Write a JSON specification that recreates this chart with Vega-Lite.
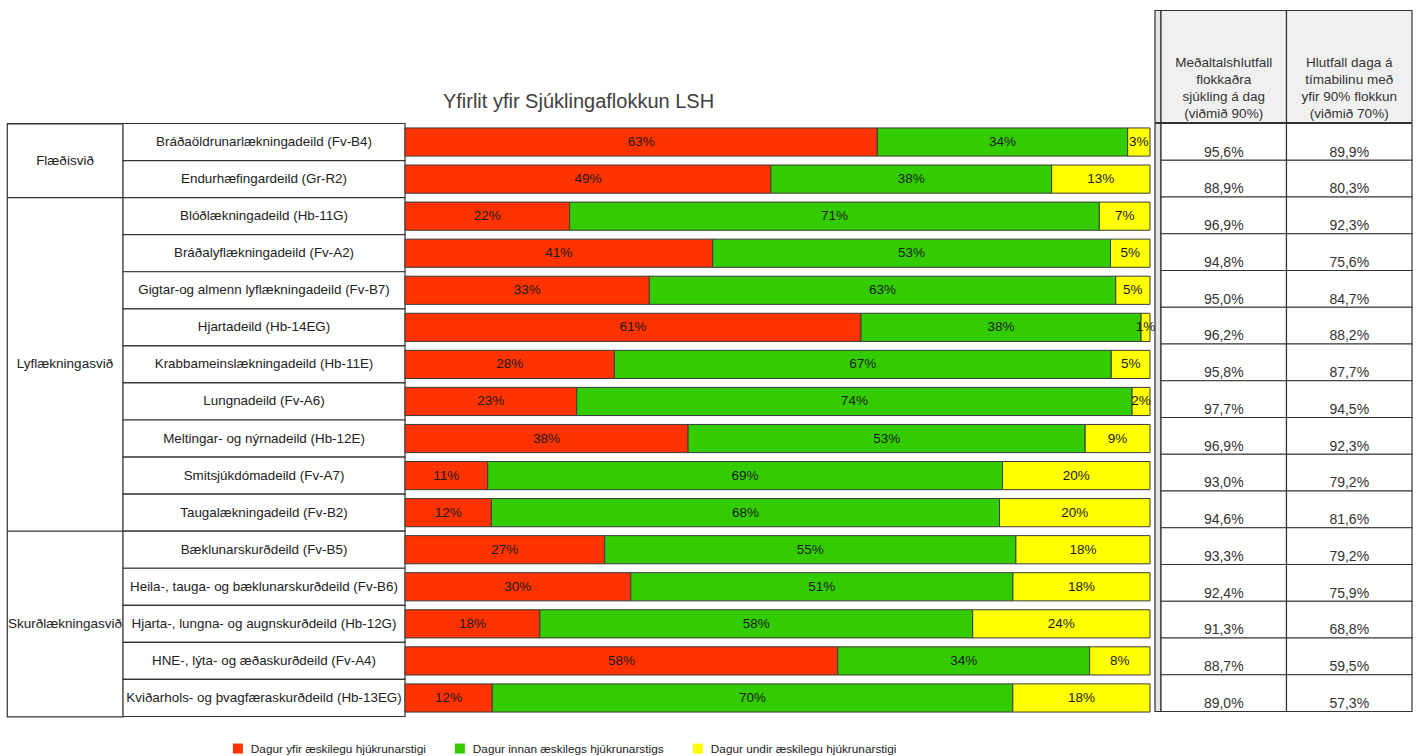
{
  "$schema": "https://vega.github.io/schema/vega-lite/v6.json",
  "padding": {"left": 5, "top": 9.5, "right": 0, "bottom": 0},
  "background": "white",
  "datasets": {
    "table": [
      {"svid": "Flæðisvið", "deild": "Bráðaöldrunarlækningadeild (Fv-B4)", "m1": "95,6%", "m2": "89,9%"},
      {"svid": "Flæðisvið", "deild": "Endurhæfingardeild (Gr-R2)", "m1": "88,9%", "m2": "80,3%"},
      {"svid": "Lyflækningasvið", "deild": "Blóðlækningadeild (Hb-11G)", "m1": "96,9%", "m2": "92,3%"},
      {"svid": "Lyflækningasvið", "deild": "Bráðalyflækningadeild (Fv-A2)", "m1": "94,8%", "m2": "75,6%"},
      {"svid": "Lyflækningasvið", "deild": "Gigtar-og almenn lyflækningadeild (Fv-B7)", "m1": "95,0%", "m2": "84,7%"},
      {"svid": "Lyflækningasvið", "deild": "Hjartadeild (Hb-14EG)", "m1": "96,2%", "m2": "88,2%"},
      {"svid": "Lyflækningasvið", "deild": "Krabbameinslækningadeild (Hb-11E)", "m1": "95,8%", "m2": "87,7%"},
      {"svid": "Lyflækningasvið", "deild": "Lungnadeild (Fv-A6)", "m1": "97,7%", "m2": "94,5%"},
      {"svid": "Lyflækningasvið", "deild": "Meltingar- og nýrnadeild (Hb-12E)", "m1": "96,9%", "m2": "92,3%"},
      {"svid": "Lyflækningasvið", "deild": "Smitsjúkdómadeild (Fv-A7)", "m1": "93,0%", "m2": "79,2%"},
      {"svid": "Lyflækningasvið", "deild": "Taugalækningadeild (Fv-B2)", "m1": "94,6%", "m2": "81,6%"},
      {"svid": "Skurðlækningasvið", "deild": "Bæklunarskurðdeild (Fv-B5)", "m1": "93,3%", "m2": "79,2%"},
      {"svid": "Skurðlækningasvið", "deild": "Heila-, tauga- og bæklunarskurðdeild (Fv-B6)", "m1": "92,4%", "m2": "75,9%"},
      {"svid": "Skurðlækningasvið", "deild": "Hjarta-, lungna- og augnskurðdeild (Hb-12G)", "m1": "91,3%", "m2": "68,8%"},
      {"svid": "Skurðlækningasvið", "deild": "HNE-, lýta- og æðaskurðdeild (Fv-A4)", "m1": "88,7%", "m2": "59,5%"},
      {"svid": "Skurðlækningasvið", "deild": "Kviðarhols- og þvagfæraskurðdeild (Hb-13EG)", "m1": "89,0%", "m2": "57,3%"}
    ],
    "svid": [
      {"svid": "Flæðisvið", "first": "Bráðaöldrunarlækningadeild (Fv-B4)", "mid": "Endurhæfingardeild (Gr-R2)"},
      {"svid": "Lyflækningasvið", "first": "Blóðlækningadeild (Hb-11G)", "mid": "Krabbameinslækningadeild (Hb-11E)"},
      {"svid": "Skurðlækningasvið", "first": "Bæklunarskurðdeild (Fv-B5)", "mid": "Hjarta-, lungna- og augnskurðdeild (Hb-12G)"}
    ],
    "heads": [
      {"col": "m1", "head": "Meðaltalshlutfall\nflokkaðra\nsjúkling á dag\n(viðmið 90%)"},
      {"col": "m2", "head": "Hlutfall daga á\ntímabilinu með\nyfir 90% flokkun\n(viðmið 70%)"}
    ],
    "titles": [
      {"t": "Yfirlit yfir Sjúklingaflokkun LSH"}
    ],
    "bars": [
      {"deild": "Bráðaöldrunarlækningadeild (Fv-B4)", "ord": 1, "stig": "Dagur yfir æskilegu hjúkrunarstigi", "share": 0.634},
      {"deild": "Bráðaöldrunarlækningadeild (Fv-B4)", "ord": 2, "stig": "Dagur innan æskilegs hjúkrunarstigs", "share": 0.336},
      {"deild": "Bráðaöldrunarlækningadeild (Fv-B4)", "ord": 3, "stig": "Dagur undir æskilegu hjúkrunarstigi", "share": 0.030},
      {"deild": "Endurhæfingardeild (Gr-R2)", "ord": 1, "stig": "Dagur yfir æskilegu hjúkrunarstigi", "share": 0.491},
      {"deild": "Endurhæfingardeild (Gr-R2)", "ord": 2, "stig": "Dagur innan æskilegs hjúkrunarstigs", "share": 0.377},
      {"deild": "Endurhæfingardeild (Gr-R2)", "ord": 3, "stig": "Dagur undir æskilegu hjúkrunarstigi", "share": 0.132},
      {"deild": "Blóðlækningadeild (Hb-11G)", "ord": 1, "stig": "Dagur yfir æskilegu hjúkrunarstigi", "share": 0.221},
      {"deild": "Blóðlækningadeild (Hb-11G)", "ord": 2, "stig": "Dagur innan æskilegs hjúkrunarstigs", "share": 0.711},
      {"deild": "Blóðlækningadeild (Hb-11G)", "ord": 3, "stig": "Dagur undir æskilegu hjúkrunarstigi", "share": 0.068},
      {"deild": "Bráðalyflækningadeild (Fv-A2)", "ord": 1, "stig": "Dagur yfir æskilegu hjúkrunarstigi", "share": 0.413},
      {"deild": "Bráðalyflækningadeild (Fv-A2)", "ord": 2, "stig": "Dagur innan æskilegs hjúkrunarstigs", "share": 0.534},
      {"deild": "Bráðalyflækningadeild (Fv-A2)", "ord": 3, "stig": "Dagur undir æskilegu hjúkrunarstigi", "share": 0.053},
      {"deild": "Gigtar-og almenn lyflækningadeild (Fv-B7)", "ord": 1, "stig": "Dagur yfir æskilegu hjúkrunarstigi", "share": 0.328},
      {"deild": "Gigtar-og almenn lyflækningadeild (Fv-B7)", "ord": 2, "stig": "Dagur innan æskilegs hjúkrunarstigs", "share": 0.626},
      {"deild": "Gigtar-og almenn lyflækningadeild (Fv-B7)", "ord": 3, "stig": "Dagur undir æskilegu hjúkrunarstigi", "share": 0.046},
      {"deild": "Hjartadeild (Hb-14EG)", "ord": 1, "stig": "Dagur yfir æskilegu hjúkrunarstigi", "share": 0.612},
      {"deild": "Hjartadeild (Hb-14EG)", "ord": 2, "stig": "Dagur innan æskilegs hjúkrunarstigs", "share": 0.376},
      {"deild": "Hjartadeild (Hb-14EG)", "ord": 3, "stig": "Dagur undir æskilegu hjúkrunarstigi", "share": 0.012},
      {"deild": "Krabbameinslækningadeild (Hb-11E)", "ord": 1, "stig": "Dagur yfir æskilegu hjúkrunarstigi", "share": 0.281},
      {"deild": "Krabbameinslækningadeild (Hb-11E)", "ord": 2, "stig": "Dagur innan æskilegs hjúkrunarstigs", "share": 0.667},
      {"deild": "Krabbameinslækningadeild (Hb-11E)", "ord": 3, "stig": "Dagur undir æskilegu hjúkrunarstigi", "share": 0.052},
      {"deild": "Lungnadeild (Fv-A6)", "ord": 1, "stig": "Dagur yfir æskilegu hjúkrunarstigi", "share": 0.230},
      {"deild": "Lungnadeild (Fv-A6)", "ord": 2, "stig": "Dagur innan æskilegs hjúkrunarstigs", "share": 0.744},
      {"deild": "Lungnadeild (Fv-A6)", "ord": 3, "stig": "Dagur undir æskilegu hjúkrunarstigi", "share": 0.024},
      {"deild": "Meltingar- og nýrnadeild (Hb-12E)", "ord": 1, "stig": "Dagur yfir æskilegu hjúkrunarstigi", "share": 0.380},
      {"deild": "Meltingar- og nýrnadeild (Hb-12E)", "ord": 2, "stig": "Dagur innan æskilegs hjúkrunarstigs", "share": 0.533},
      {"deild": "Meltingar- og nýrnadeild (Hb-12E)", "ord": 3, "stig": "Dagur undir æskilegu hjúkrunarstigi", "share": 0.087},
      {"deild": "Smitsjúkdómadeild (Fv-A7)", "ord": 1, "stig": "Dagur yfir æskilegu hjúkrunarstigi", "share": 0.111},
      {"deild": "Smitsjúkdómadeild (Fv-A7)", "ord": 2, "stig": "Dagur innan æskilegs hjúkrunarstigs", "share": 0.691},
      {"deild": "Smitsjúkdómadeild (Fv-A7)", "ord": 3, "stig": "Dagur undir æskilegu hjúkrunarstigi", "share": 0.198},
      {"deild": "Taugalækningadeild (Fv-B2)", "ord": 1, "stig": "Dagur yfir æskilegu hjúkrunarstigi", "share": 0.116},
      {"deild": "Taugalækningadeild (Fv-B2)", "ord": 2, "stig": "Dagur innan æskilegs hjúkrunarstigs", "share": 0.682},
      {"deild": "Taugalækningadeild (Fv-B2)", "ord": 3, "stig": "Dagur undir æskilegu hjúkrunarstigi", "share": 0.202},
      {"deild": "Bæklunarskurðdeild (Fv-B5)", "ord": 1, "stig": "Dagur yfir æskilegu hjúkrunarstigi", "share": 0.268},
      {"deild": "Bæklunarskurðdeild (Fv-B5)", "ord": 2, "stig": "Dagur innan æskilegs hjúkrunarstigs", "share": 0.552},
      {"deild": "Bæklunarskurðdeild (Fv-B5)", "ord": 3, "stig": "Dagur undir æskilegu hjúkrunarstigi", "share": 0.180},
      {"deild": "Heila-, tauga- og bæklunarskurðdeild (Fv-B6)", "ord": 1, "stig": "Dagur yfir æskilegu hjúkrunarstigi", "share": 0.303},
      {"deild": "Heila-, tauga- og bæklunarskurðdeild (Fv-B6)", "ord": 2, "stig": "Dagur innan æskilegs hjúkrunarstigs", "share": 0.513},
      {"deild": "Heila-, tauga- og bæklunarskurðdeild (Fv-B6)", "ord": 3, "stig": "Dagur undir æskilegu hjúkrunarstigi", "share": 0.184},
      {"deild": "Hjarta-, lungna- og augnskurðdeild (Hb-12G)", "ord": 1, "stig": "Dagur yfir æskilegu hjúkrunarstigi", "share": 0.181},
      {"deild": "Hjarta-, lungna- og augnskurðdeild (Hb-12G)", "ord": 2, "stig": "Dagur innan æskilegs hjúkrunarstigs", "share": 0.581},
      {"deild": "Hjarta-, lungna- og augnskurðdeild (Hb-12G)", "ord": 3, "stig": "Dagur undir æskilegu hjúkrunarstigi", "share": 0.238},
      {"deild": "HNE-, lýta- og æðaskurðdeild (Fv-A4)", "ord": 1, "stig": "Dagur yfir æskilegu hjúkrunarstigi", "share": 0.581},
      {"deild": "HNE-, lýta- og æðaskurðdeild (Fv-A4)", "ord": 2, "stig": "Dagur innan æskilegs hjúkrunarstigs", "share": 0.338},
      {"deild": "HNE-, lýta- og æðaskurðdeild (Fv-A4)", "ord": 3, "stig": "Dagur undir æskilegu hjúkrunarstigi", "share": 0.081},
      {"deild": "Kviðarhols- og þvagfæraskurðdeild (Hb-13EG)", "ord": 1, "stig": "Dagur yfir æskilegu hjúkrunarstigi", "share": 0.117},
      {"deild": "Kviðarhols- og þvagfæraskurðdeild (Hb-13EG)", "ord": 2, "stig": "Dagur innan æskilegs hjúkrunarstigs", "share": 0.698},
      {"deild": "Kviðarhols- og þvagfæraskurðdeild (Hb-13EG)", "ord": 3, "stig": "Dagur undir æskilegu hjúkrunarstigi", "share": 0.184}
    ]
  },
  "config": {
    "view": {"stroke": null},
    "font": "Liberation Sans",
    "text": {"font": "Liberation Sans", "fontSize": 13, "color": "#222222"},
    "legend": {
      "orient": "none",
      "legendX": 225,
      "legendY": 732,
      "direction": "horizontal",
      "title": null,
      "padding": 0,
      "symbolType": "square",
      "symbolSize": 100,
      "symbolStrokeWidth": 0,
      "symbolOpacity": 1,
      "labelFont": "Liberation Sans",
      "labelFontSize": 11.8,
      "labelColor": "#222222",
      "labelOffset": 7,
      "labelLimit": 400,
      "columnPadding": 28
    }
  },
  "spacing": -3.2,
  "vconcat": [
    {
      "spacing": 0,
      "bounds": "flush",
      "hconcat": [
        {
          "width": 1143,
          "height": 112,
          "data": {"name": "titles"},
          "mark": {"type": "text", "fontSize": 20, "color": "#404040", "baseline": "alphabetic", "dy": 41},
          "encoding": {"text": {"field": "t"}}
        },
        {
          "width": 5,
          "height": 112,
          "data": {"name": "titles"},
          "mark": {"type": "rect", "opacity": 0}
        },
        {
          "width": 6,
          "height": 112,
          "data": {"name": "titles"},
          "mark": {"type": "rect", "fill": "#e4e4e4", "stroke": "#333333", "strokeWidth": 1.2}
        },
        {
          "width": 251,
          "height": 112,
          "data": {"name": "heads"},
          "encoding": {
            "x": {"field": "col", "type": "nominal", "sort": null, "axis": null, "scale": {"paddingInner": 0, "paddingOuter": 0}}
          },
          "layer": [
            {"mark": {"type": "rect", "fill": "#f0f0f0", "stroke": "#333333", "strokeWidth": 1.2}},
            {
              "mark": {"type": "text", "lineBreak": "\n", "lineHeight": 17, "fontSize": 13.5, "baseline": "middle", "dy": -4, "color": "#333333"},
              "encoding": {"text": {"field": "head"}}
            }
          ]
        }
      ]
    },
    {
      "spacing": 0,
      "bounds": "flush",
      "hconcat": [
        {
          "width": 116,
          "height": 593,
          "view": {"stroke": "#333333", "strokeWidth": 1.2},
          "layer": [
            {
              "data": {"name": "svid"},
              "mark": {"type": "rule", "color": "#333333", "strokeWidth": 1.2},
              "encoding": {
                "y": {
                  "field": "first",
                  "type": "nominal",
                  "bandPosition": 0,
                  "axis": null,
                  "scale": {
                    "paddingInner": 0,
                    "paddingOuter": 0,
                    "domain": [
                      "Bráðaöldrunarlækningadeild (Fv-B4)",
                      "Endurhæfingardeild (Gr-R2)",
                      "Blóðlækningadeild (Hb-11G)",
                      "Bráðalyflækningadeild (Fv-A2)",
                      "Gigtar-og almenn lyflækningadeild (Fv-B7)",
                      "Hjartadeild (Hb-14EG)",
                      "Krabbameinslækningadeild (Hb-11E)",
                      "Lungnadeild (Fv-A6)",
                      "Meltingar- og nýrnadeild (Hb-12E)",
                      "Smitsjúkdómadeild (Fv-A7)",
                      "Taugalækningadeild (Fv-B2)",
                      "Bæklunarskurðdeild (Fv-B5)",
                      "Heila-, tauga- og bæklunarskurðdeild (Fv-B6)",
                      "Hjarta-, lungna- og augnskurðdeild (Hb-12G)",
                      "HNE-, lýta- og æðaskurðdeild (Fv-A4)",
                      "Kviðarhols- og þvagfæraskurðdeild (Hb-13EG)"
                    ]
                  }
                }
              }
            },
            {
              "data": {"name": "svid"},
              "transform": [{"filter": {"field": "svid", "equal": "Flæðisvið"}}],
              "mark": {"type": "text", "fontSize": 13.5},
              "encoding": {
                "y": {"field": "mid", "type": "nominal", "bandPosition": 0},
                "text": {"field": "svid"}
              }
            },
            {
              "data": {"name": "svid"},
              "transform": [{"filter": {"not": {"field": "svid", "equal": "Flæðisvið"}}}],
              "mark": {"type": "text", "fontSize": 13.5},
              "encoding": {
                "y": {"field": "mid", "type": "nominal", "bandPosition": 0.5},
                "text": {"field": "svid"}
              }
            }
          ]
        },
        {
          "width": 282,
          "height": 593,
          "data": {"name": "table"},
          "encoding": {
            "y": {"field": "deild", "type": "nominal", "sort": null, "axis": null, "scale": {"paddingInner": 0, "paddingOuter": 0}}
          },
          "layer": [
            {"mark": {"type": "rect", "fill": "white", "stroke": "#333333", "strokeWidth": 1.2}},
            {"mark": {"type": "text", "fontSize": 13.4}, "encoding": {"text": {"field": "deild"}}}
          ]
        },
        {
          "width": 745,
          "height": 593,
          "data": {"name": "bars"},
          "encoding": {
            "y": {"field": "deild", "type": "nominal", "sort": null, "axis": null, "scale": {"paddingInner": 0.24, "paddingOuter": 0.12}},
            "x": {"field": "share", "type": "quantitative", "stack": "normalize", "axis": null, "scale": {"domain": [0, 1], "nice": false}},
            "order": {"field": "ord", "type": "quantitative"}
          },
          "layer": [
            {
              "mark": {"type": "bar", "stroke": "#3a3a3a", "strokeWidth": 1},
              "encoding": {
                "color": {
                  "field": "stig",
                  "type": "nominal",
                  "sort": null,
                  "scale": {
                    "domain": ["Dagur yfir æskilegu hjúkrunarstigi", "Dagur innan æskilegs hjúkrunarstigs", "Dagur undir æskilegu hjúkrunarstigi"],
                    "range": ["#ff3300", "#33cc00", "#ffff00"]
                  },
                  "legend": {"title": null}
                }
              }
            },
            {
              "mark": {"type": "text", "fontSize": 13.5, "color": "#1a1a1a"},
              "encoding": {
                "detail": {"field": "stig"},
                "x": {"field": "share", "type": "quantitative", "stack": "normalize", "bandPosition": 0.5},
                "text": {"field": "share", "type": "quantitative", "format": ".0%"}
              }
            }
          ]
        },
        {
          "width": 5,
          "height": 593,
          "data": {"name": "titles"},
          "mark": {"type": "rect", "opacity": 0}
        },
        {
          "width": 6,
          "height": 588,
          "data": {"name": "titles"},
          "mark": {"type": "rect", "fill": "#e4e4e4", "stroke": "#333333", "strokeWidth": 1.2}
        },
        {
          "width": 251,
          "height": 588,
          "data": {"name": "table"},
          "transform": [{"fold": ["m1", "m2"], "as": ["col", "val"]}],
          "encoding": {
            "x": {"field": "col", "type": "nominal", "sort": null, "axis": null, "scale": {"paddingInner": 0, "paddingOuter": 0}},
            "y": {"field": "deild", "type": "nominal", "sort": null, "axis": null, "scale": {"paddingInner": 0, "paddingOuter": 0}}
          },
          "layer": [
            {"mark": {"type": "rect", "fill": "white", "stroke": "#333333", "strokeWidth": 1.2}},
            {
              "mark": {"type": "text", "fontSize": 14, "baseline": "middle", "color": "#333333"},
              "encoding": {
                "y": {"field": "deild", "type": "nominal", "sort": null, "bandPosition": 0.79},
                "text": {"field": "val"}
              }
            }
          ]
        }
      ]
    }
  ]
}
